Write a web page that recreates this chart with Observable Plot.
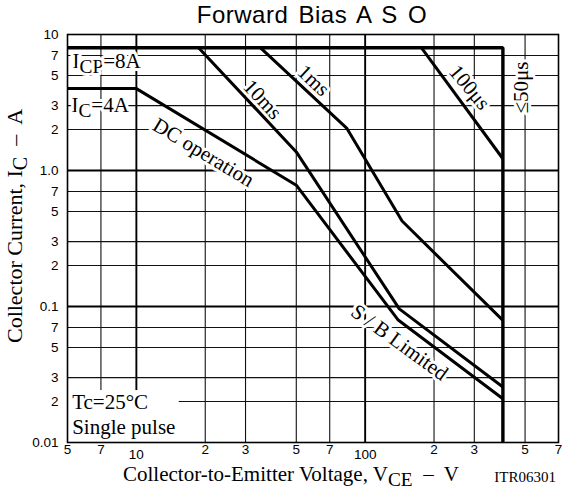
<!DOCTYPE html>
<html>
<head>
<meta charset="utf-8">
<script src="https://cdn.jsdelivr.net/npm/d3@7"></script>
<script src="https://cdn.jsdelivr.net/npm/@observablehq/plot@0.6"></script>
<style>
  html, body { margin: 0; padding: 0; background: #fff; }
  #chart { width: 570px; height: 495px; }
</style>
</head>
<body>
<div id="chart"></div>
<script>
// ---- Data ----
// Collector-to-Emitter Voltage (V) and Collector Current (A) per boundary
const envelopeV = [5, 400, 400];          // ICP = 8 A line and VCEO boundary
const envelopeI = [8, 8, 0.01];
const dcV = [5, 10, 50, 139, 400];        // IC = 4 A / DC operation
const dcI = [4, 4, 0.78, 0.080, 0.021];
const ms10V = [18.7, 50, 141, 400];       // 10 ms
const ms10I = [8, 1.37, 0.096, 0.0256];
const ms1V = [34.8, 83, 145, 400];        // 1 ms
const ms1I = [8, 2.05, 0.425, 0.079];
const us100V = [176, 400];                // 100 µs
const us100I = [8, 1.22];

// ---- Ticks ----
const xTicks = [5, 7, 10, 20, 30, 50, 70, 100, 200, 300, 500, 700];
const xTickLabels = ["5", "7", "10", "2", "3", "5", "7", "100", "2", "3", "5", "7"];
const yTicks = [10, 7, 5, 3, 2, 1, 0.7, 0.5, 0.3, 0.2, 0.1, 0.07, 0.05, 0.03, 0.02, 0.01];
const yTickLabels = ["10", "7", "5", "3", "2", "1.0", "7", "5", "3", "2", "0.1", "7", "5", "3", "2", "0.01"];
const xGridMinor = [7, 20, 30, 50, 70, 200, 300, 500];
const xGridMajor = [10, 100];
const yGridMinor = [7, 5, 3, 2, 0.7, 0.5, 0.3, 0.2, 0.07, 0.05, 0.03, 0.02];
const yGridMajor = [1, 0.1];

// ---- Annotation texts ----
const leftLabels = ["I_{CP}=8A", "I_{C}=4A", "Tc=25°C", "Single pulse"];
const leftLabelV = [5.26, 5.2, 5.24, 5.24];
const leftLabelI = [6.41, 3.04, 0.0199, 0.013];
const curveLabels = ["10ms", "1ms", "100μs", "≤50μs", "DC operation", "S / B Limited"];
const curveLabelV = [35.6, 59.5, 286, 482, 19.65, 141.3];
const curveLabelI = [3.33, 4.59, 4.08, 4.08, 1.356, 0.0544];
const curveLabelAngle = [47, 43, 50, -90, 31, 36];
// white box behind "Tc=25°C / Single pulse"
const noteBoxV = [5, 15.4];
const noteBoxI = [0.01, 0.0241];

const serif = "'Liberation Serif', 'Times New Roman', Times, serif";
const sans = "'Liberation Sans', Arial, Helvetica, sans-serif";

const toPts = (xs, ys) => xs.map((v, i) => ({v, a: ys[i]}));
const curve = (xs, ys, w) => Plot.line(toPts(xs, ys), {x: "v", y: "a", stroke: "#000", strokeWidth: w, strokeLinejoin: "miter", strokeLinecap: "butt"});

const xTickData = xTicks.map((v, i) => ({v, t: xTickLabels[i]}));
const yTickData = yTicks.map((v, i) => ({v, t: yTickLabels[i]}));
const leftData = leftLabels.map((t, i) => ({t, v: leftLabelV[i], a: leftLabelI[i]}));
const curveLabelData = curveLabels.map((t, i) => ({t, v: curveLabelV[i], a: curveLabelI[i], r: curveLabelAngle[i]}));

const svg = Plot.plot({
  width: 570,
  height: 495,
  marginTop: 34,
  marginBottom: 53,
  marginLeft: 67,
  marginRight: 12,
  style: {background: "#fff", fontFamily: sans, overflow: "visible"},
  x: {type: "log", domain: [5, 700], axis: null},
  y: {type: "log", domain: [0.01, 10], axis: null},
  marks: [
    Plot.ruleX(xGridMinor, {stroke: "#111", strokeWidth: 1.1}),
    Plot.ruleX(xGridMajor, {stroke: "#000", strokeWidth: 1.9}),
    Plot.ruleY(yGridMinor, {stroke: "#111", strokeWidth: 1.1}),
    Plot.ruleY(yGridMajor, {stroke: "#000", strokeWidth: 1.9}),
    Plot.rect([0], {x1: () => noteBoxV[0], x2: () => noteBoxV[1], y1: () => noteBoxI[0], y2: () => noteBoxI[1], fill: "#fff"}),
    Plot.text(leftData, {x: "v", y: "a", text: "t", textAnchor: "start", fontSize: 21, fontFamily: serif, fill: "#000", stroke: "#fff", strokeWidth: 6, strokeLinejoin: "round"}),
    Plot.text(curveLabelData, {x: "v", y: "a", text: "t", rotate: "r", fontSize: 21, fontFamily: serif, fill: "#000", stroke: "#fff", strokeWidth: 6, strokeLinejoin: "round"}),
    curve(dcV, dcI, 3),
    curve(ms10V, ms10I, 3),
    curve(ms1V, ms1I, 3),
    curve(us100V, us100I, 3),
    curve(envelopeV, envelopeI, 3.4),
    Plot.frame({stroke: "#000", strokeWidth: 1.6}),
    Plot.text(xTickData.filter(d => d.t !== "10" && d.t !== "100"), {x: "v", text: "t", frameAnchor: "bottom", dy: 11, fontSize: 13.5, fill: "#000"}),
    Plot.text(xTickData.filter(d => d.t === "10" || d.t === "100"), {x: "v", text: "t", frameAnchor: "bottom", dy: 16.5, fontSize: 13.5, fill: "#000"}),
    Plot.text(yTickData, {y: "v", text: "t", frameAnchor: "left", dx: -9, textAnchor: "end", fontSize: 13.5, fill: "#000"})
  ]
});

// subscripts: "_{...}" -> lowered tspan
function applySubs(root) {
  root.querySelectorAll("text").forEach(t => {
    const s = t.textContent;
    if (!s.includes("_{")) return;
    t.textContent = "";
    const parts = s.split(/(_\{[^}]*\})/);
    let lowered = false;
    parts.forEach(p => {
      if (!p) return;
      const ts = document.createElementNS("http://www.w3.org/2000/svg", "tspan");
      if (p.startsWith("_{")) {
        ts.textContent = p.slice(2, -1);
        ts.setAttribute("dy", "5");
        ts.setAttribute("font-size", "92%");
        lowered = true;
      } else {
        ts.textContent = p;
        if (lowered) { ts.setAttribute("dy", "-5"); lowered = false; }
      }
      t.appendChild(ts);
    });
  });
}

const s = d3.select(svg);
// Title
s.append("text").attr("x", 312).attr("y", 23).attr("text-anchor", "middle")
  .attr("font-family", sans).attr("font-size", 24).attr("fill", "#000")
  .style("letter-spacing", "0.5px").style("word-spacing", "3px")
  .text("Forward Bias A S O");
// Y axis title
s.append("text").attr("transform", "translate(22,226) rotate(-90)").attr("text-anchor", "middle")
  .attr("font-family", serif).attr("font-size", 22).attr("fill", "#000")
  .attr("xml:space", "preserve")
  .text("Collector Current, I_{C}  \u2013  A");
// X axis title
s.append("text").attr("x", 123).attr("y", 481).attr("text-anchor", "start")
  .attr("font-family", serif).attr("font-size", 21).attr("fill", "#000")
  .attr("xml:space", "preserve")
  .text("Collector-to-Emitter Voltage, V_{CE}  \u2013  V");
s.append("text").attr("x", 556).attr("y", 482).attr("text-anchor", "end")
  .attr("font-family", serif).attr("font-size", 15).attr("fill", "#000")
  .text("ITR06301");

applySubs(svg);
document.getElementById("chart").appendChild(svg);
</script>
</body>
</html>
